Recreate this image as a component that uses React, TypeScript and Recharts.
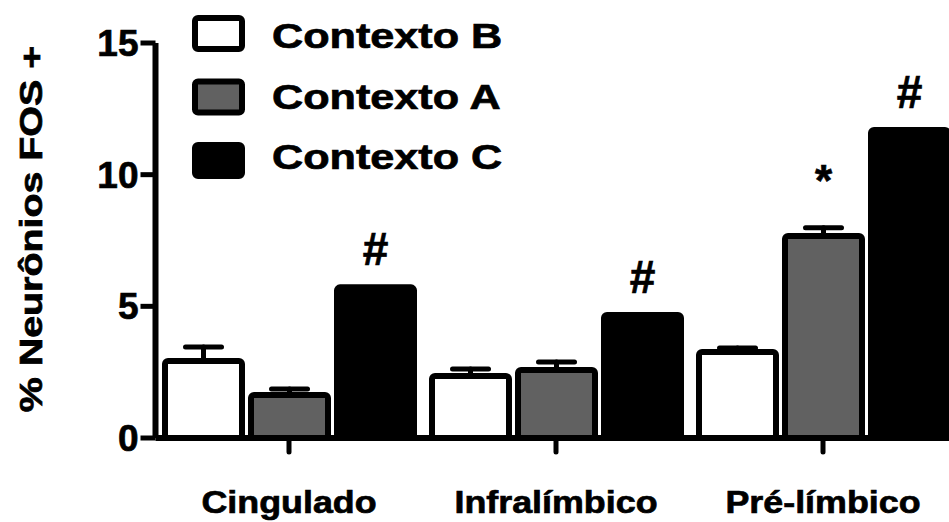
import React from "react"
import { BarChart, Bar, XAxis, YAxis, ErrorBar, LabelList, Legend } from "recharts"

// % de neurônios FOS+ por região e contexto
const regions = ["Cingulado", "Infralímbico", "Pré-límbico"]
const contextoB = [2.92, 2.35, 3.27]
const contextoBErr = [0.54, 0.27, 0.15]
const contextoA = [1.63, 2.58, 7.67]
const contextoAErr = [0.23, 0.31, 0.31]
const contextoC = [5.72, 4.67, 11.7]
const marksA = ["", "", "*"]
const marksC = ["#", "#", "#"]
const yTicks = [0, 5, 10, 15]

const FONT = "'Liberation Sans', Arial, sans-serif"
// a thin outline makes the bold text as heavy as the original
const HEAVY = { stroke: "#000", strokeWidth: 0.7 }

const series = [
  { key: "B", name: "Contexto B", fill: "#ffffff" },
  { key: "A", name: "Contexto A", fill: "#616161" },
  { key: "C", name: "Contexto C", fill: "#000000" },
]

const data = regions.map((region, i) => ({
  region,
  B: contextoB[i],
  BErr: [0, contextoBErr[i]],
  A: contextoA[i],
  AErr: [0, contextoAErr[i]],
  C: contextoC[i],
  markA: marksA[i],
  markC: marksC[i],
}))

function RegionTick({ x, y, payload }: any) {
  return (
    <text
      transform={`translate(${x},${y}) scale(1.12,1)`}
      dy="0.71em"
      textAnchor="middle"
      fontSize={32}
      fontWeight="bold"
      fontFamily={FONT}
      fill="#000"
      {...HEAVY}
    >
      {payload.value}
    </text>
  )
}

const mark = (lift: number, size: number) => (props: any) => {
  const { value } = props
  if (!value) return null
  const vb = props.viewBox ?? props
  return (
    <text
      x={vb.x + vb.width / 2}
      y={vb.y - lift}
      textAnchor="middle"
      fontSize={size}
      fontWeight="bold"
      fontFamily={FONT}
      fill="#000"
      {...HEAVY}
    >
      {value}
    </text>
  )
}

function YLabel() {
  return (
    <text
      transform="translate(42,229) rotate(-90) scale(1.27,1)"
      textAnchor="middle"
      fontSize={31}
      fontWeight="bold"
      fontFamily={FONT}
      fill="#000"
      {...HEAVY}
    >
      % Neurônios FOS +
    </text>
  )
}

function LegendBox() {
  return (
    <svg width={560} height={200} style={{ display: "block" }}>
      {series.map((s, i) => (
        <g key={s.key}>
          <rect
            x={195}
            y={18 + i * 63.5}
            width={47}
            height={31}
            rx={3}
            fill={s.fill}
            stroke="#000"
            strokeWidth={6}
          />
          <text
            transform={`translate(272,${48 + i * 60.5}) scale(1.2,1)`}
            fontSize={36}
            fontWeight="bold"
            fontFamily={FONT}
            fill="#000"
            {...HEAVY}
          >
            {s.name}
          </text>
        </g>
      ))}
    </svg>
  )
}

export default function App() {
  return (
    <div
      style={{
        position: "absolute",
        left: 0,
        top: 0,
        width: 949,
        height: 522,
        overflow: "hidden",
        background: "#fff",
      }}
    >
      <BarChart
        width={961}
        height={522}
        data={data}
        margin={{ top: 43, right: 4.5, bottom: 0, left: 0 }}
        barCategoryGap={9.5}
        barGap={9}
        style={{ fontFamily: FONT }}
      >
        <XAxis
          dataKey="region"
          height={84}
          tickSize={14}
          tickMargin={38}
          axisLine={{ stroke: "#000", strokeWidth: 6 }}
          tickLine={{ stroke: "#000", strokeWidth: 5, strokeLinecap: "round" }}
          tick={<RegionTick />}
          interval={0}
        />
        <YAxis
          width={155.5}
          domain={[0, 15]}
          ticks={yTicks}
          tickSize={15}
          tickMargin={2}
          axisLine={{ stroke: "#000", strokeWidth: 6 }}
          tickLine={{ stroke: "#000", strokeWidth: 5 }}
          tick={{ fill: "#000", fontSize: 37, fontWeight: "bold", fontFamily: FONT, ...HEAVY }}
          label={{ content: () => <YLabel /> }}
        />
        <Legend
          layout="vertical"
          align="center"
          verticalAlign="middle"
          wrapperStyle={{ left: 0, top: 0, width: 560, height: 200 }}
          content={() => <LegendBox />}
        />
        <Bar
          dataKey="B"
          name="Contexto B"
          fill="#ffffff"
          stroke="#000"
          strokeWidth={6}
          radius={3}
          isAnimationActive={false}
        >
          <ErrorBar
            dataKey="BErr"
            width={18}
            stroke="#000"
            strokeWidth={5}
            strokeLinecap="round"
            isAnimationActive={false}
          />
        </Bar>
        <Bar
          dataKey="A"
          name="Contexto A"
          fill="#616161"
          stroke="#000"
          strokeWidth={6}
          radius={3}
          isAnimationActive={false}
        >
          <ErrorBar
            dataKey="AErr"
            width={18}
            stroke="#000"
            strokeWidth={5}
            strokeLinecap="round"
            isAnimationActive={false}
          />
          <LabelList dataKey="markA" content={mark(40, 44)} />
        </Bar>
        <Bar
          dataKey="C"
          name="Contexto C"
          fill="#000000"
          stroke="#000"
          strokeWidth={6}
          radius={3}
          isAnimationActive={false}
        >
          <LabelList dataKey="markC" content={mark(22, 46)} />
        </Bar>
      </BarChart>
    </div>
  )
}
